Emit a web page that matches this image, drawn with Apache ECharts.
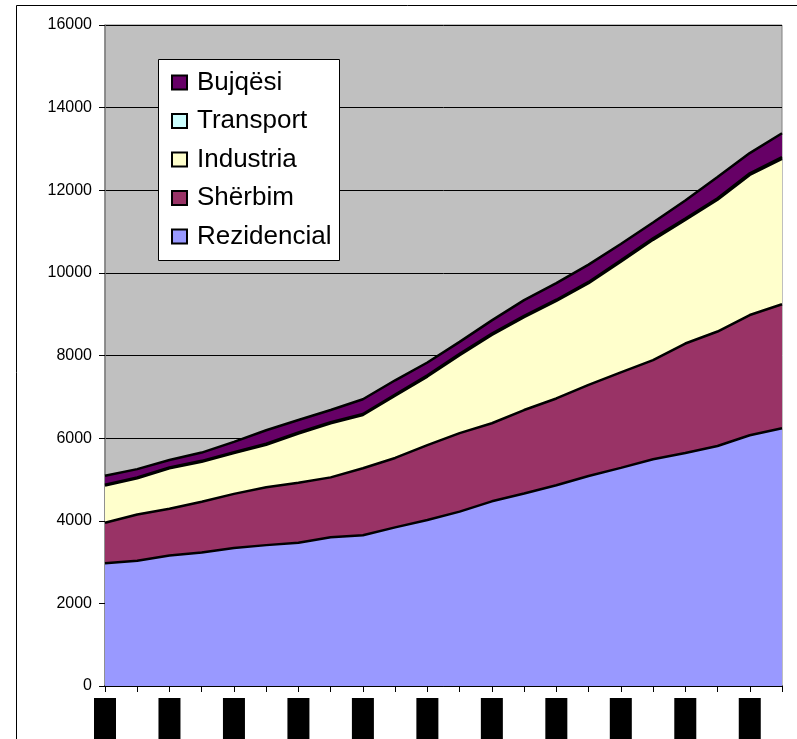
<!DOCTYPE html>
<html>
<head>
<meta charset="utf-8">
<script src="https://cdn.jsdelivr.net/npm/echarts@6/dist/echarts.min.js"></script>
<style>
html,body{margin:0;padding:0;background:#fff;}
#chart{width:797px;height:739px;}
</style>
</head>
<body>
<div id="chart"></div>
<script>
var categories = ['1999','2000','2001','2002','2003','2004','2005','2006','2007','2008','2009','2010','2011','2012','2013','2014','2015','2016','2017','2018','2019','2020'];
var rezidencial = [2970,3030,3160,3230,3340,3410,3470,3600,3650,3840,4020,4220,4470,4660,4860,5085,5280,5490,5640,5810,6070,6240];
var sherbim = [980,1120,1130,1230,1310,1400,1450,1450,1620,1680,1810,1900,1890,2020,2100,2205,2310,2400,2650,2770,2910,3000];
var industria = [900,880,980,970,990,1030,1190,1310,1290,1510,1660,1890,2140,2250,2360,2460,2680,2910,2990,3190,3390,3520];
var transport = [20,20,20,20,20,25,25,25,25,25,30,30,30,30,30,30,35,35,35,35,40,40];
var bujqesi = [220,200,180,200,250,325,305,295,355,345,310,290,320,380,400,420,395,385,435,515,490,580];
var yTicks = [0,2000,4000,6000,8000,10000,12000,14000,16000];

var font = 'Liberation Sans, Arial, sans-serif';
function areaSeries(name, data, color) {
  return {
    name: name, type: 'line', stack: 'total', data: data,
    symbol: 'none', smooth: false,
    lineStyle: {color: '#000', width: 2.5},
    itemStyle: {color: color, borderColor: '#000', borderWidth: 1.5},
    areaStyle: {color: color, opacity: 1}
  };
}
var chart = echarts.init(document.getElementById('chart'));
chart.setOption({
  animation: false,
  backgroundColor: '#fff',
  grid: {left: 105, right: 15, top: 25, bottom: 53, containLabel: false, outerBoundsMode: 'none', show: true, backgroundColor: '#C0C0C0', borderColor: '#808080', borderWidth: 1},
  legend: {
    data: ['Bujqësi','Transport','Industria','Shërbim','Rezidencial'],
    orient: 'vertical', left: 171, top: 69,
    itemWidth: 15, itemHeight: 14, itemGap: 11.5,
    icon: 'rect',
    textStyle: {fontFamily: font, fontSize: 26, color: '#000', lineHeight: 27, padding: [0,0,0,5]},
    padding: 0
  },
  graphic: [
    {type: 'rect', shape: {x: 16.5, y: 5.5, width: 900, height: 900}, style: {fill: 'none', stroke: '#000', lineWidth: 1}, z: 100},
    {type: 'rect', shape: {x: 158.5, y: 59.5, width: 181, height: 201}, style: {fill: '#fff', stroke: '#000', lineWidth: 1}, z: 1}
  ],
  xAxis: {
    type: 'category', data: categories, boundaryGap: false,
    axisLine: {lineStyle: {color: '#000', width: 1.5}},
    axisTick: {show: true, interval: 0, length: 6, lineStyle: {color: '#000'}},
    axisLabel: {interval: 1, rotate: 90, margin: 12, fontFamily: font, fontSize: 16, color: '#000', backgroundColor: '#000', padding: [3, 8, 3, 8]},
    splitLine: {show: false}
  },
  yAxis: {
    type: 'value', min: yTicks[0], max: yTicks[yTicks.length-1], interval: 2000,
    axisLine: {show: true, lineStyle: {color: '#808080', width: 1.5}},
    axisTick: {show: true, length: 6, lineStyle: {color: '#000'}},
    axisLabel: {margin: 13, fontFamily: font, fontSize: 16, color: '#000', formatter: function (v) { return String(v); }},
    splitLine: {show: true, lineStyle: {color: '#000', width: 1}}
  },
  series: [
    areaSeries('Rezidencial', rezidencial, '#9999FF'),
    areaSeries('Shërbim', sherbim, '#993366'),
    areaSeries('Industria', industria, '#FFFFCC'),
    areaSeries('Transport', transport, '#CCFFFF'),
    areaSeries('Bujqësi', bujqesi, '#660066')
  ]
});
</script>
</body>
</html>
